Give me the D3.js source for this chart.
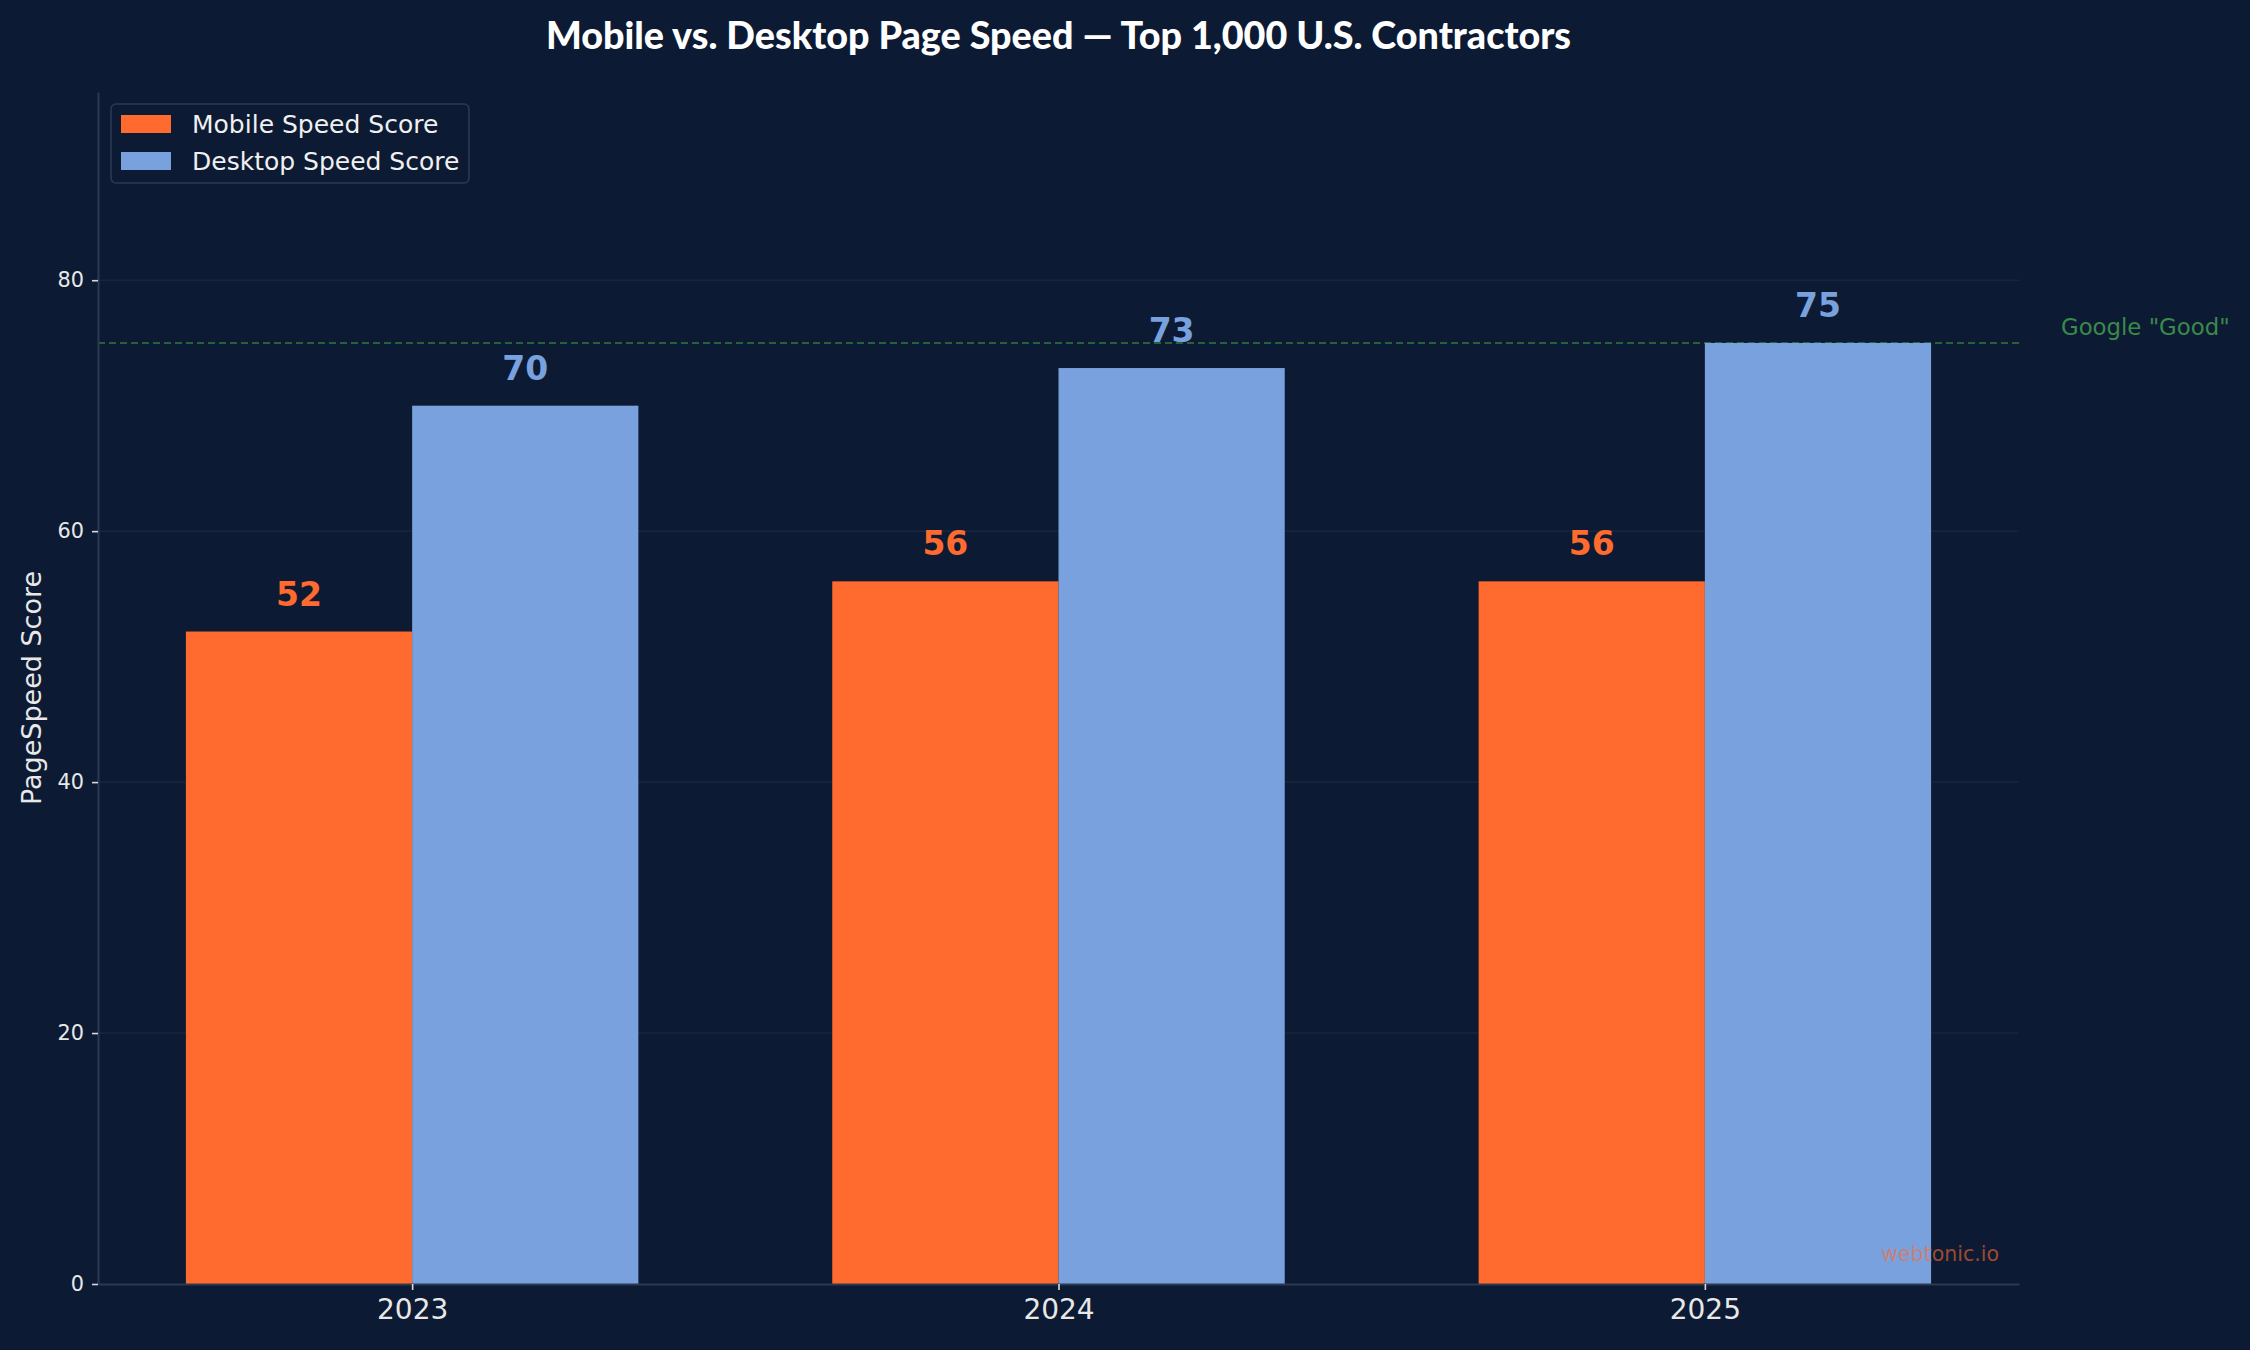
<!DOCTYPE html>
<html>
<head>
<meta charset="utf-8">
<script src="https://cdn.jsdelivr.net/npm/d3@7"></script>
<style>
  html, body { margin: 0; padding: 0; background: #0c1b33; }
  svg { display: block; }
  .tick text { font-family: "DejaVu Sans", sans-serif; fill: #e8e8e8; }
</style>
</head>
<body>
<svg id="chart" width="2250" height="1350"></svg>
<script>
// Data
const years = ['2023', '2024', '2025']
const mobileScores = [52, 56, 56]
const desktopScores = [70, 73, 75]
const yTicks = [0, 20, 40, 60, 80]
const goodThreshold = 75

const series = [
  { name: 'Mobile Speed Score', values: mobileScores, color: '#ff6b2e', offset: -0.175 },
  { name: 'Desktop Speed Score', values: desktopScores, color: '#79a1dd', offset: 0.175 },
]

const W = 2250, H = 1350
const margin = { top: 92, right: 231, bottom: 66, left: 98 }
const innerW = W - margin.left - margin.right
const innerH = H - margin.top - margin.bottom
const barW = 0.35

const svg = d3.select('#chart')
svg.append('rect').attr('width', W).attr('height', H).attr('fill', '#0c1b33')

const x = d3.scaleLinear().domain([-0.486, years.length - 1 + 0.486]).range([0, innerW])
const y = d3.scaleLinear().domain([0, 95]).range([innerH, 0])

const g = svg.append('g').attr('transform', `translate(${margin.left},${margin.top})`)

// grid
g.append('g')
  .selectAll('line')
  .data(yTicks.filter((d) => d > 0))
  .join('line')
  .attr('x1', 0).attr('x2', innerW)
  .attr('y1', (d) => y(d)).attr('y2', (d) => y(d))
  .attr('stroke', '#17263e').attr('stroke-width', 1.5)

// threshold line
g.append('line')
  .attr('x1', 0).attr('x2', innerW)
  .attr('y1', y(goodThreshold)).attr('y2', y(goodThreshold))
  .attr('stroke', '#2f7a3e').attr('stroke-width', 1.6)
  .attr('stroke-dasharray', '7,4')

// bars
series.forEach((s) => {
  g.append('g')
    .selectAll('rect')
    .data(s.values)
    .join('rect')
    .attr('x', (d, i) => x(i + s.offset - barW / 2))
    .attr('width', x(barW) - x(0))
    .attr('y', (d) => y(d))
    .attr('height', (d) => innerH - y(d))
    .attr('fill', s.color)

  g.append('g')
    .selectAll('text')
    .data(s.values)
    .join('text')
    .attr('x', (d, i) => x(i + s.offset))
    .attr('y', (d) => y(d) - 26)
    .attr('text-anchor', 'middle')
    .attr('font-family', 'DejaVu Sans, sans-serif')
    .attr('font-weight', 'bold')
    .attr('font-size', 33)
    .attr('fill', s.color)
    .text((d) => d)
})

// axes
const yAxis = g.append('g')
  .call(d3.axisLeft(y).tickValues(yTicks).tickSize(6).tickPadding(8).tickSizeOuter(0))
yAxis.selectAll('.tick text').attr('font-size', 20.8)
yAxis.selectAll('.tick line').attr('stroke', '#d8d8d8').attr('stroke-width', 1.6)
yAxis.select('.domain').attr('stroke', '#2b3a52').attr('stroke-width', 2)

const xAxis = g.append('g')
  .attr('transform', `translate(0,${innerH})`)
  .call(d3.axisBottom(x).tickValues(years.map((d, i) => i)).tickFormat((i) => years[i])
    .tickSize(6).tickPadding(9).tickSizeOuter(0))
xAxis.selectAll('.tick text').attr('font-size', 28)
xAxis.selectAll('.tick line').attr('stroke', '#d8d8d8').attr('stroke-width', 1.6)
xAxis.select('.domain').attr('stroke', '#2b3a52').attr('stroke-width', 2)

// threshold label
g.append('text')
  .attr('x', innerW + 42)
  .attr('y', y(goodThreshold) - 8)
  .attr('font-family', 'DejaVu Sans, sans-serif')
  .attr('font-size', 22.8)
  .attr('fill', '#3a8a4a')
  .text('Google "Good"')

// y label
svg.append('text')
  .attr('transform', `translate(41,${margin.top + innerH / 2}) rotate(-90)`)
  .attr('text-anchor', 'middle')
  .attr('font-family', 'DejaVu Sans, sans-serif')
  .attr('font-size', 27)
  .attr('fill', '#e8e8e8')
  .text('PageSpeed Score')

// title
svg.append('text')
  .attr('x', margin.left + innerW / 2)
  .attr('y', 49)
  .attr('text-anchor', 'middle')
  .attr('font-family', 'Lato, sans-serif')
  .attr('font-weight', 900)
  .attr('font-size', 37.7)
  .attr('fill', '#ffffff')
  .text('Mobile vs. Desktop Page Speed \u2014 Top 1,000 U.S. Contractors')

// legend
const legend = svg.append('g').attr('transform', 'translate(111,104)')
legend.append('rect')
  .attr('width', 358).attr('height', 79).attr('rx', 5)
  .attr('fill', '#0c1b33').attr('stroke', '#2b3a52').attr('stroke-width', 1.6)
series.forEach((s, i) => {
  legend.append('rect')
    .attr('x', 10).attr('y', 11 + i * 37)
    .attr('width', 50).attr('height', 18)
    .attr('fill', s.color)
  legend.append('text')
    .attr('x', 81).attr('y', 29 + i * 37)
    .attr('font-family', 'DejaVu Sans, sans-serif')
    .attr('font-size', 25)
    .attr('fill', '#f0f0f0')
    .text(s.name)
})

// watermark
g.append('text')
  .attr('x', innerW - 20)
  .attr('y', innerH - 23)
  .attr('text-anchor', 'end')
  .attr('font-family', 'DejaVu Sans, sans-serif')
  .attr('font-size', 20.5)
  .attr('fill', '#ff6b2e')
  .attr('fill-opacity', 0.6)
  .text('webtonic.io')
</script>
</body>
</html>
